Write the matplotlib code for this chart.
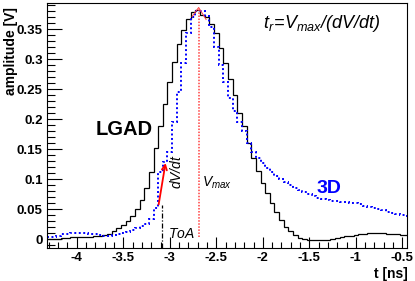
import numpy as np
import matplotlib
matplotlib.use("Agg")
import matplotlib.pyplot as plt
from matplotlib.ticker import MultipleLocator, FuncFormatter

plt.rcParams['font.family'] = ['Liberation Sans', 'DejaVu Sans']
plt.rcParams['mathtext.fontset'] = 'custom'
plt.rcParams['mathtext.it'] = 'Liberation Sans:italic'
plt.rcParams['mathtext.rm'] = 'Liberation Sans:italic'

# binning of the two waveforms (ns)
t_first_edge = -4.325
bin_width = 0.05

# LGAD signal amplitude per bin [V]
lgad = [0.000, 0.001, 0.001, 0.002, 0.002, 0.003, 0.003, 0.003, 0.004, 0.004,
        0.005, 0.006, 0.007, 0.009, 0.013, 0.018, 0.024, 0.030, 0.039, 0.051,
        0.066, 0.086, 0.112, 0.152, 0.188, 0.225, 0.262, 0.296, 0.325, 0.349,
        0.367, 0.378, 0.382, 0.374, 0.370, 0.359, 0.343, 0.318, 0.294, 0.267,
        0.240, 0.210, 0.188, 0.160, 0.135, 0.114, 0.093, 0.077, 0.060, 0.046,
        0.032, 0.021, 0.013, 0.007, 0.002, 0.000, -0.002, -0.002, -0.002, -0.002,
        -0.001, 0.000, 0.002, 0.003, 0.005, 0.006, 0.007, 0.008, 0.009, 0.010,
        0.010, 0.010, 0.010, 0.009, 0.009, 0.008, 0.007, 0.007]

# 3D signal amplitude per bin [V]
det3d = [0.003, 0.004, 0.006, 0.008, 0.009, 0.010, 0.010, 0.010, 0.010, 0.009,
         0.008, 0.007, 0.006, 0.006, 0.007, 0.008, 0.010, 0.012, 0.015, 0.018,
         0.022, 0.026, 0.034, 0.052, 0.112, 0.128, 0.146, 0.196, 0.246, 0.293,
         0.343, 0.370, 0.380, 0.380, 0.371, 0.354, 0.320, 0.290, 0.262, 0.236,
         0.213, 0.195, 0.180, 0.160, 0.145, 0.135, 0.127, 0.119, 0.112, 0.106,
         0.100, 0.095, 0.090, 0.086, 0.082, 0.078, 0.075, 0.072, 0.069, 0.067,
         0.065, 0.064, 0.063, 0.062, 0.062, 0.061, 0.060, 0.058, 0.056, 0.054,
         0.052, 0.050, 0.048, 0.046, 0.044, 0.042, 0.040, 0.038]

# markers for the rise time definition
t_vmax, v_max = -2.69, 0.384
peak_fit_t = [-2.76, -2.69, -2.61]
peak_fit_v = [0.371, 0.386, 0.366]
t_toa, v_toa = -3.086, 0.057
slope_start = (-3.120, 0.058)
slope_end = (-3.046, 0.127)

edges = t_first_edge + bin_width * np.arange(len(lgad) + 1)

fig = plt.figure(figsize=(4.15, 2.81), dpi=100)
ax = fig.add_axes([0.1133, 0.1164, 0.8675, 0.8719])

ax.stairs(lgad, edges, color='black', lw=0.9, baseline=None)
ax.stairs(det3d, edges, color='#0000ff', lw=1.4, ls=(0, (1, 1.3)), baseline=None)

ymin, ymax = -0.015, 0.393
ax.plot([t_vmax, t_vmax], [0.004, v_max], color='#ff4040', ls=(0, (1, 1)), lw=1.1)
ax.plot(peak_fit_t, peak_fit_v, color='#ff4040', lw=0.7)
ax.plot([t_toa, t_toa], [ymin, v_toa], color='black', ls=(0, (4, 1.5, 1, 1.5)), lw=0.9)
ax.annotate('', xy=slope_end, xytext=slope_start,
            arrowprops=dict(arrowstyle='->', color='red', lw=1.3, mutation_scale=9,
                            shrinkA=0, shrinkB=0))

ax.text(-3.486, 0.182, 'LGAD', fontsize=14.5, fontweight='bold', ha='center', va='center')
ax.text(-1.294, 0.085, '3D', fontsize=14, fontweight='bold', color='#0000ff', ha='center', va='center')
ax.text(-2.93, 0.112, '$dV/dt$', fontsize=10, rotation=90, ha='center', va='center')
ax.text(-3.021, 0.002, '$ToA$', fontsize=10, ha='left', va='baseline')
ax.text(-2.65, 0.087, '$V_{max}$', fontsize=10, ha='left', va='baseline')
ax.text(-2.0, 0.352, r'$t_r\!=\!V_{max}/(dV/dt)$', fontsize=13, ha='left', va='baseline')

ax.set_xlim(-4.32, -0.45)
ax.set_ylim(ymin, ymax)

fmt = FuncFormatter(lambda v, p: '%g' % round(v, 3))
ax.xaxis.set_major_locator(MultipleLocator(0.5))
ax.xaxis.set_minor_locator(MultipleLocator(0.1))
ax.yaxis.set_major_locator(MultipleLocator(0.05))
ax.yaxis.set_minor_locator(MultipleLocator(0.01))
ax.xaxis.set_major_formatter(fmt)
ax.yaxis.set_major_formatter(fmt)
ax.tick_params(which='both', direction='in', top=False, right=False, width=0.8)
ax.tick_params(which='major', length=8, labelsize=9.5, pad=3)
ax.tick_params(axis='y', which='major', length=11)
ax.tick_params(which='minor', length=4)
ax.tick_params(axis='y', which='minor', length=6)
for lab in ax.get_xticklabels() + ax.get_yticklabels():
    lab.set_fontweight('bold')
for s in ax.spines.values():
    s.set_linewidth(0.8)

ax.set_ylabel('amplitude [V]', fontsize=10, fontweight='bold', loc='top')
ax.yaxis.set_label_coords(-0.08, 0.985)
ax.set_xlabel('t [ns]', fontsize=10, fontweight='bold', loc='right')
ax.xaxis.set_label_coords(1.003, -0.076)

fig.savefig('out.png', dpi=100)
